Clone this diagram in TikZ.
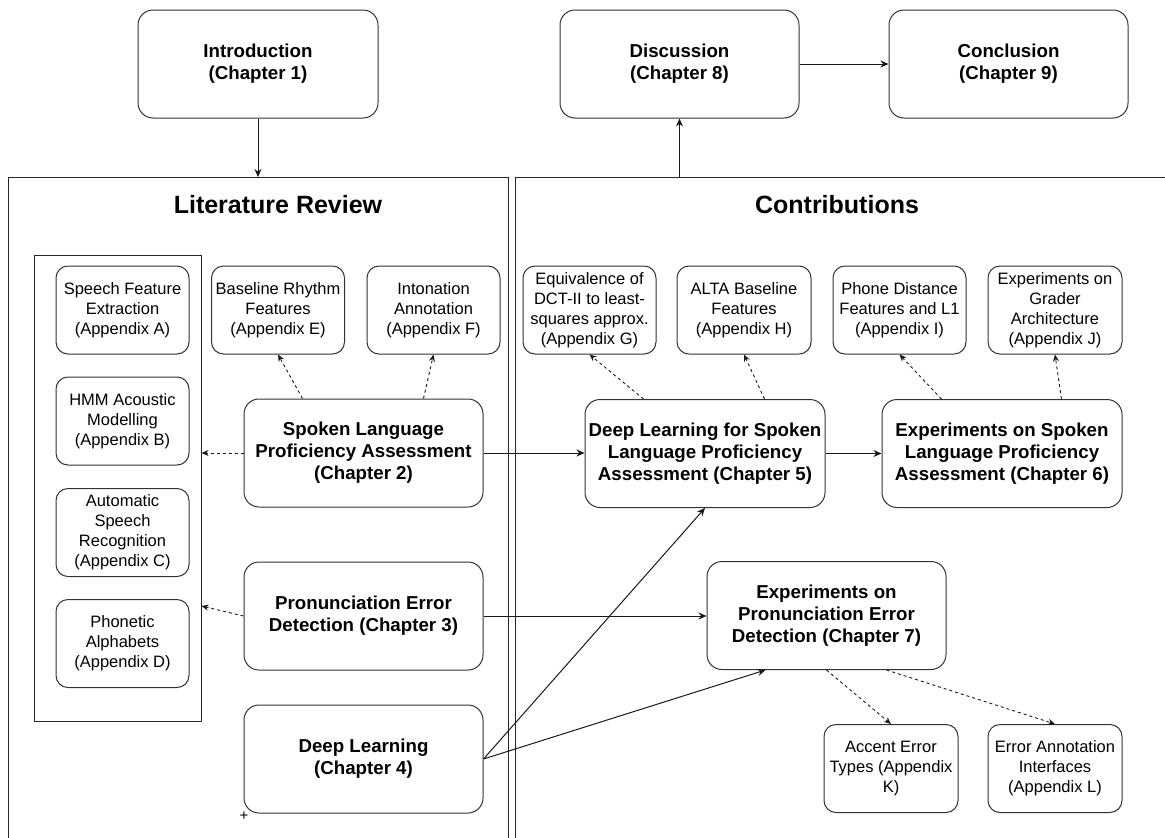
\documentclass[tikz,border=0pt]{standalone}
\usepackage{fontspec}
\setmainfont{Liberation Sans}
\usetikzlibrary{arrows.meta}
\begin{document}
\begin{tikzpicture}[x=1pt,y=-1pt,
  every node/.style={inner sep=0pt, align=center, text=black},
  chap/.style={draw=black!80, line width=1pt, rounded corners=15pt,
    minimum width=239pt, minimum height=108pt,
    font=\bfseries\fontsize{18.7}{22}\selectfont},
  appx/.style={draw=black!80, line width=1pt, rounded corners=12pt,
    minimum width=133pt, minimum height=88pt,
    font=\fontsize{16.5}{20}\selectfont},
  panel/.style={draw=black!85, line width=1pt, anchor=north west},
  heading/.style={font=\bfseries\fontsize{25}{30}\selectfont},
  link/.style={draw=black!90, line width=1pt, -{Stealth[length=8pt,width=7pt]}},
  aux/.style={draw=black!90, line width=0.9pt, dash pattern=on 3pt off 3pt,
    -{Stealth[length=7pt,width=6pt]}},
]
\useasboundingbox (0,0) rectangle (1165,838);
\clip (0,0) rectangle (1165,838);

% outer sections
\node[panel, minimum width=500pt, minimum height=720pt] (lit) at (8,177) {};
\node[panel, minimum width=700pt, minimum height=720pt] (contrib) at (515,177) {};
\node[heading] (littitle) at (278,205) {Literature Review};
\node[heading] (contitle) at (837,205) {Contributions};

% group of background appendices
\node[draw=black!85, line width=1pt, minimum width=167pt, minimum height=466pt] (grp) at (117.5,488) {};

% top-level chapters
\node[chap, minimum width=240pt] (intro) at (258,64) {Introduction\\(Chapter 1)};
\node[chap] (disc) at (679.5,64) {Discussion\\(Chapter 8)};
\node[chap] (concl) at (1008.5,64) {Conclusion\\(Chapter 9)};

% literature review chapters
\node[chap] (ch2) at (363.5,453) {Spoken Language\\Proficiency Assessment\\(Chapter 2)};
\node[chap] (ch3) at (363.5,616) {Pronunciation Error\\Detection (Chapter 3)};
\node[chap] (ch4) at (363.5,759) {Deep Learning\\(Chapter 4)};
\node[font=\fontsize{15}{15}\selectfont] (plus) at (244,816) {+};

% contribution chapters
\node[chap, minimum width=240pt] (ch5) at (705,453.5) {Deep Learning for Spoken\\Language Proficiency\\Assessment (Chapter 5)};
\node[chap, minimum width=240pt] (ch6) at (1002,453.5) {Experiments on Spoken\\Language Proficiency\\Assessment (Chapter 6)};
\node[chap] (ch7) at (826.5,615.5) {Experiments on\\Pronunciation Error\\Detection (Chapter 7)};

% appendices
\node[appx] (appA) at (122.5,310) {Speech Feature\\Extraction\\(Appendix A)};
\node[appx] (appB) at (122.5,421) {HMM Acoustic\\Modelling\\(Appendix B)};
\node[appx] (appC) at (122.5,532.5) {Automatic\\Speech\\Recognition\\(Appendix C)};
\node[appx] (appD) at (122.5,643.5) {Phonetic\\Alphabets\\(Appendix D)};
\node[appx] (appE) at (278,310) {Baseline Rhythm\\Features\\(Appendix E)};
\node[appx] (appF) at (433.5,310) {Intonation\\Annotation\\(Appendix F)};
\node[appx] (appG) at (589.5,310) {Equivalence of\\DCT-II to least-\\squares approx.\\(Appendix G)};
\node[appx, minimum width=134pt] (appH) at (744,310) {ALTA Baseline\\Features\\(Appendix H)};
\node[appx] (appI) at (899.5,310) {Phone Distance\\Features and L1\\(Appendix I)};
\node[appx, minimum width=134pt] (appJ) at (1055,310) {Experiments on\\Grader\\Architecture\\(Appendix J)};
\node[appx, minimum width=134pt] (appK) at (891,768.5) {Accent Error\\Types (Appendix\\K)};
\node[appx, minimum width=134pt] (appL) at (1055,768.5) {Error Annotation\\Interfaces\\(Appendix L)};

% main flow
\draw[link] (intro.south) -- (intro.south |- lit.north);
\draw[link] (disc.south |- contrib.north) -- (disc.south);
\draw[link] (disc.east) -- (concl.west);
\draw[link] (ch2.east) -- (ch5.west |- ch2.east);
\draw[link] (ch5.east) -- (ch6.west);
\draw[link] (ch3.east) -- (ch7.west |- ch3.east);
\draw[link] (ch4.east) -- (ch5.south);
\draw[link] (ch4.east) -- ([xshift=-61pt]ch7.south);

% supporting appendices
\draw[aux] (ch2.west) -- (ch2.west -| grp.east);
\draw[aux] (ch3.west) -- ([yshift=10pt]ch3.west -| grp.east);
\draw[aux] ([xshift=59pt]ch2.north west) -- (appE.south);
\draw[aux] ([xshift=180pt]ch2.north west) -- (appF.south);
\draw[aux] ([xshift=59pt]ch5.north west) -- (appG.south);
\draw[aux] ([xshift=180pt]ch5.north west) -- (appH.south);
\draw[aux] ([xshift=60pt]ch6.north west) -- (appI.south);
\draw[aux] ([xshift=180pt]ch6.north west) -- (appJ.south);
\draw[aux] (ch7.south) -- (appK.north);
\draw[aux] ([xshift=60pt]ch7.south) -- (appL.north);
\end{tikzpicture}
\end{document}
